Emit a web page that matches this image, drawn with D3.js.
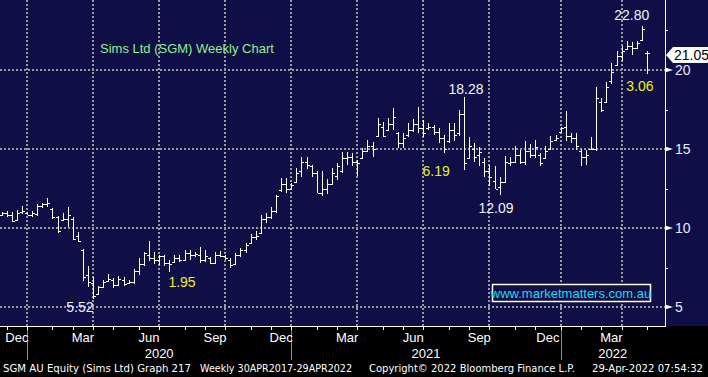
<!DOCTYPE html>
<html>
<head>
<meta charset="utf-8">
<script src="https://cdn.jsdelivr.net/npm/d3@7"></script>
<style>
  body { margin: 0; background: #000; }
  svg { display: block; }
</style>
</head>
<body>
<div id="chart"></div>
<script>
// weekly bars, first bar is the week starting this Monday
const firstWeek = "2019-11-25"

const open = [10.85, 10.95, 10.80, 10.50, 11.00, 10.95, 10.85, 10.90, 11.40, 11.55,
    11.20, 10.70, 10.50, 10.60, 10.60, 9.50, 8.60, 7.00, 6.50, 5.80,
    6.25, 6.65, 6.70, 6.40, 6.70, 6.55, 6.60, 7.30, 7.70, 8.30,
    8.10, 8.00, 8.20, 7.80, 7.85, 8.10, 8.00, 8.40, 8.30, 8.30,
    8.00, 8.10, 7.80, 8.30, 8.20, 8.00, 7.70, 8.30, 8.60, 9.05,
    9.40, 9.70, 10.60, 10.70, 11.10, 12.40, 12.80, 12.50, 12.90, 13.60,
    14.20, 13.90, 13.50, 12.20, 12.50, 12.80, 13.30, 13.60, 14.40, 14.50,
    14.20, 14.40, 14.90, 15.20, 15.80, 16.40, 16.20, 16.60, 16.00, 15.40,
    15.90, 16.20, 16.60, 16.30, 16.30, 16.40, 16.10, 15.70, 15.50, 16.20,
    16.00, 17.20, 14.40, 15.00, 14.60, 14.20, 13.60, 13.00, 12.60, 12.90,
    14.10, 14.20, 14.60, 14.20, 14.90, 14.60, 14.60, 14.40, 15.00, 15.60,
    16.10, 16.40, 15.80, 15.70, 14.90, 14.50, 15.00, 15.00, 18.00, 18.00,
    19.30, 20.30, 20.90, 21.30, 21.50, 21.40, 21.90, 21.05]

const high = [11.03, 11.10, 11.03, 11.14, 11.40, 11.00, 11.05, 11.50, 11.56, 11.88,
    11.24, 10.76, 10.93, 11.35, 10.70, 9.77, 8.65, 7.60, 6.92, 6.36,
    6.74, 7.10, 6.82, 6.95, 6.90, 6.74, 7.40, 8.08, 8.50, 9.15,
    8.50, 8.29, 8.29, 7.97, 8.29, 8.29, 8.60, 8.60, 8.50, 8.78,
    8.60, 8.18, 8.50, 8.57, 8.29, 8.08, 8.40, 8.71, 9.03, 9.62,
    9.83, 10.82, 10.93, 11.35, 12.09, 13.14, 13.14, 12.83, 13.78, 14.51,
    14.51, 13.99, 13.63, 13.63, 13.10, 13.78, 14.09, 14.83, 14.83, 14.73,
    14.30, 15.04, 15.57, 15.46, 16.94, 16.73, 16.94, 17.57, 16.10, 15.99,
    16.62, 16.88, 17.68, 16.84, 16.62, 16.52, 16.31, 15.90, 16.62, 16.67,
    17.47, 18.28, 15.78, 15.40, 15.10, 14.41, 13.99, 13.90, 13.20, 14.55,
    14.50, 15.20, 14.94, 15.53, 15.32, 15.57, 14.73, 15.20, 15.82, 15.88,
    16.41, 17.38, 16.03, 15.99, 14.98, 14.94, 15.78, 18.95, 18.23, 19.26,
    20.42, 21.22, 21.54, 21.86, 21.76, 21.86, 22.80, 21.18]

const low = [10.76, 10.68, 10.36, 10.46, 10.90, 10.80, 10.72, 10.76, 11.24, 11.35,
    10.60, 9.70, 10.46, 10.08, 9.24, 9.13, 6.67, 6.29, 5.52, 5.80,
    6.20, 6.60, 6.18, 6.30, 6.30, 6.50, 6.46, 7.03, 7.60, 7.93,
    7.72, 7.66, 7.60, 7.24, 7.80, 7.87, 7.97, 8.00, 8.18, 7.80,
    7.85, 7.72, 7.72, 8.18, 7.97, 7.50, 7.66, 8.14, 8.40, 9.03,
    9.24, 9.66, 10.34, 10.60, 10.93, 12.30, 12.20, 12.45, 12.87, 13.25,
    13.71, 13.25, 12.20, 12.03, 12.15, 12.72, 13.04, 13.46, 13.99, 13.92,
    13.29, 14.35, 14.83, 14.47, 15.78, 15.74, 16.20, 16.20, 15.04, 15.04,
    15.78, 16.10, 15.99, 15.78, 16.20, 15.90, 15.36, 14.73, 15.40, 15.50,
    15.80, 13.67, 14.35, 14.20, 13.90, 13.25, 12.65, 12.45, 12.09, 12.90,
    13.90, 14.16, 14.05, 14.00, 14.40, 14.40, 13.90, 14.41, 14.94, 15.53,
    15.99, 15.50, 15.40, 14.94, 13.95, 14.00, 14.94, 14.90, 17.32, 17.95,
    19.11, 20.27, 20.59, 21.27, 20.95, 21.35, 21.81, 19.75]

const close = [10.95, 10.80, 10.45, 10.95, 11.10, 10.85, 10.95, 11.40, 11.50, 11.60,
    10.70, 9.80, 10.60, 10.80, 9.30, 9.20, 6.90, 6.60, 5.70, 6.25,
    6.60, 6.80, 6.40, 6.80, 6.45, 6.60, 7.30, 7.70, 8.40, 8.10,
    8.00, 8.20, 7.80, 7.70, 8.10, 8.00, 8.40, 8.30, 8.35, 8.00,
    8.20, 7.80, 8.30, 8.25, 8.10, 7.65, 8.30, 8.60, 8.95, 9.40,
    9.50, 10.60, 10.70, 11.10, 12.00, 12.80, 12.50, 12.70, 13.50, 14.20,
    14.00, 13.50, 12.20, 12.50, 12.80, 13.50, 13.90, 14.40, 14.50, 14.20,
    14.10, 14.90, 15.20, 15.00, 16.60, 15.80, 16.60, 17.00, 15.40, 15.70,
    16.20, 16.60, 16.30, 16.00, 16.40, 16.10, 15.70, 15.00, 16.20, 15.90,
    17.20, 14.10, 15.20, 14.50, 14.80, 13.60, 13.20, 12.50, 12.90, 14.20,
    14.20, 14.60, 14.20, 14.90, 14.60, 15.10, 14.10, 14.90, 15.50, 15.70,
    16.30, 15.80, 15.70, 15.20, 14.50, 14.60, 15.00, 18.20, 17.50, 18.90,
    19.90, 20.90, 21.20, 21.50, 21.40, 21.70, 22.60, 21.05]

const lastPrice = 21.05
const priceTicks = [5, 10, 15, 20]
const minorPriceTicks = [7.5, 12.5, 17.5, 22.5]
const labelMonths = ["Dec", "Mar", "Jun", "Sep"]

// annotations: text, bar index, price it sits at, kind
const noteText = ["5.52", "1.95", "6.19", "18.28", "12.09", "22.80", "3.06"]
const noteBar = [15.4, 35.5, 85.5, 91.4, 97.3, 124.0, 125.6]
const notePrice = [5.0, 6.58, 13.58, 18.8, 11.27, 23.48, 19.0]
const noteKind = ["hl", "chg", "chg", "hl", "hl", "hl", "chg"]

const titleText = "Sims Ltd (SGM) Weekly Chart"
const watermark = "www.marketmatters.com.au"

let svg_width = 708
let svg_height = 377
let plotRight = 665
let plotBottom = 326
let navy = "#0f0e46"
let font = "'Liberation Sans', Arial, sans-serif"

var svg = d3.select("#chart")
    .append("svg")
    .attr("width", svg_width)
    .attr("height", svg_height);

svg.append("rect")
    .attr("width", svg_width).attr("height", plotBottom)
    .attr("fill", navy);

var xScale = d3.scaleLinear()
    .domain([0, open.length - 1])
    .range([1.6, 647]);

var yScale = d3.scaleLinear()
    .domain([5, 20])
    .range([307, 70]);

// week dates -> month starts
var parse = d3.timeParse("%Y-%m-%d")
var start = parse(firstWeek)
var weekFri = open.map((d, i) => d3.timeDay.offset(start, 7 * i + 4))
var monthStarts = []
weekFri.forEach((d, i) => {
    if (i > 0 && d.getMonth() != weekFri[i - 1].getMonth()) monthStarts.push(i)
})
var quarterStarts = monthStarts.filter(i => weekFri[i].getMonth() % 3 == 0)
var yearStarts = monthStarts.filter(i => weekFri[i].getMonth() == 0)

// grid
var grid = svg.append("g")
    .attr("stroke", "#9b9b9b")
    .attr("stroke-width", 2)
    .attr("stroke-dasharray", "2,2");

grid.selectAll(".h").data(priceTicks).enter().append("line")
    .attr("x1", 0).attr("x2", plotRight)
    .attr("y1", d => Math.round(yScale(d)))
    .attr("y2", d => Math.round(yScale(d)));

grid.selectAll(".v").data(quarterStarts).enter().append("line")
    .attr("x1", d => Math.round(xScale(d)))
    .attr("x2", d => Math.round(xScale(d)))
    .attr("y1", 0).attr("y2", plotBottom);

// title
svg.append("text")
    .attr("x", 100).attr("y", 53)
    .attr("fill", "#93ef93")
    .style("font-family", font)
    .style("font-size", "13px")
    .text(titleText);

// OHLC bars
svg.append("g")
    .attr("stroke", "#fff")
    .attr("stroke-width", 1)
    .attr("fill", "none")
    .attr("shape-rendering", "crispEdges")
    .selectAll("path").data(d3.range(open.length)).enter().append("path")
    .attr("d", i => {
        let x = Math.round(xScale(i)) + 0.5
        let yo = Math.round(yScale(open[i])) + 0.5
        let yc = Math.round(yScale(close[i])) + 0.5
        return "M" + x + "," + yScale(high[i]) + "V" + yScale(low[i]) +
            "M" + (x - 2.5) + "," + yo + "H" + x +
            "M" + x + "," + yc + "H" + (x + 2.5)
    });

// annotations
svg.append("g").selectAll("text").data(noteText).enter().append("text")
    .attr("x", (d, i) => xScale(noteBar[i]))
    .attr("y", (d, i) => yScale(notePrice[i]) + 5)
    .attr("text-anchor", "middle")
    .attr("fill", (d, i) => noteKind[i] == "hl" ? "#eef4ff" : "#f0f020")
    .style("font-family", font)
    .style("font-size", "14px")
    .text(d => d);

// watermark box
svg.append("rect")
    .attr("x", 492.5).attr("y", 284.5)
    .attr("width", 158).attr("height", 17)
    .attr("fill", navy)
    .attr("stroke", "#fff")
    .attr("stroke-width", 1.5);

svg.append("text")
    .attr("x", 571).attr("y", 298)
    .attr("text-anchor", "middle")
    .attr("fill", "#18dcf0")
    .style("font-family", font)
    .style("font-size", "13px")
    .text(watermark);

// right axis
svg.append("line")
    .attr("x1", plotRight + 0.5).attr("x2", plotRight + 0.5)
    .attr("y1", 0).attr("y2", plotBottom)
    .attr("stroke", "#fff");

svg.append("g").selectAll("line").data(minorPriceTicks).enter().append("line")
    .attr("x1", plotRight).attr("x2", plotRight + 3)
    .attr("y1", d => Math.round(yScale(d)) + 0.5)
    .attr("y2", d => Math.round(yScale(d)) + 0.5)
    .attr("stroke", "#fff");

svg.append("g").selectAll("path").data(priceTicks).enter().append("path")
    .attr("d", d => {
        let y = yScale(d)
        return "M" + plotRight + "," + (y - 2.5) + "L" + (plotRight + 8) + "," + y + "L" + plotRight + "," + (y + 2.5) + "Z"
    })
    .attr("fill", "#fff");

svg.append("g").selectAll("text").data(priceTicks).enter().append("text")
    .attr("x", 675)
    .attr("y", d => yScale(d) + 5)
    .attr("fill", "#e4ecff")
    .style("font-family", font)
    .style("font-size", "14px")
    .text(d => d);

// last price flag
var yLast = yScale(lastPrice) + 1.5
svg.append("path")
    .attr("d", "M666," + yLast + "L673," + (yLast - 8) + "H708V" + (yLast + 8) + "H673Z")
    .attr("fill", "#fff");

svg.append("text")
    .attr("x", 674).attr("y", yLast + 5)
    .attr("fill", "#000")
    .style("font-family", font)
    .style("font-size", "14px")
    .text(lastPrice.toFixed(2));

// bottom axis
svg.append("line")
    .attr("x1", 0).attr("x2", plotRight + 1)
    .attr("y1", plotBottom + 0.5).attr("y2", plotBottom + 0.5)
    .attr("stroke", "#fff");

svg.append("g").selectAll("line").data(monthStarts).enter().append("line")
    .attr("x1", d => Math.round(xScale(d)) + 0.5)
    .attr("x2", d => Math.round(xScale(d)) + 0.5)
    .attr("y1", plotBottom).attr("y2", plotBottom + 4)
    .attr("stroke", "#fff");

svg.append("g").selectAll("line").data(yearStarts).enter().append("line")
    .attr("x1", d => Math.round(xScale(d)) + 0.5)
    .attr("x2", d => Math.round(xScale(d)) + 0.5)
    .attr("y1", plotBottom + 4).attr("y2", 360)
    .attr("stroke", "#8a8a8a");

var monthFmt = d3.timeFormat("%b")
var monthLabelData = monthStarts.map((m, j) => ({
    i: m,
    x: (xScale(m) + (j + 1 < monthStarts.length ? xScale(monthStarts[j + 1]) : plotRight)) / 2,
    name: monthFmt(weekFri[m])
})).filter(d => labelMonths.includes(d.name))

svg.append("g").selectAll("text").data(monthLabelData).enter().append("text")
    .attr("x", d => d.x).attr("y", 342)
    .attr("text-anchor", "middle")
    .attr("fill", "#fff")
    .style("font-family", font)
    .style("font-size", "13px")
    .text(d => d.name);

var yearLabelData = yearStarts.map((m, j) => ({
    x: (xScale(m) + (j + 1 < yearStarts.length ? xScale(yearStarts[j + 1]) : plotRight)) / 2,
    name: weekFri[m].getFullYear()
}))

svg.append("g").selectAll("text").data(yearLabelData).enter().append("text")
    .attr("x", d => d.x).attr("y", 358)
    .attr("text-anchor", "middle")
    .attr("fill", "#fff")
    .style("font-family", font)
    .style("font-size", "13px")
    .text(d => d.name);

// footer
var footer = [
    { t: "SGM AU Equity (Sims Ltd) Graph 217", x: 3, w: 188 },
    { t: "Weekly 30APR2017-29APR2022", x: 200, w: 152 },
    { t: "Copyright\u00a9 2022 Bloomberg Finance L.P.", x: 369, w: 206 },
    { t: "29-Apr-2022 07:54:32", x: 592, w: 111 }
]
svg.append("g").selectAll("text").data(footer).enter().append("text")
    .attr("x", d => d.x).attr("y", 372)
    .attr("textLength", d => d.w)
    .attr("lengthAdjust", "spacingAndGlyphs")
    .attr("fill", "#fff")
    .style("font-family", "'DejaVu Sans', Verdana, sans-serif")
    .style("font-size", "10.5px")
    .text(d => d.t);
</script>
</body>
</html>
